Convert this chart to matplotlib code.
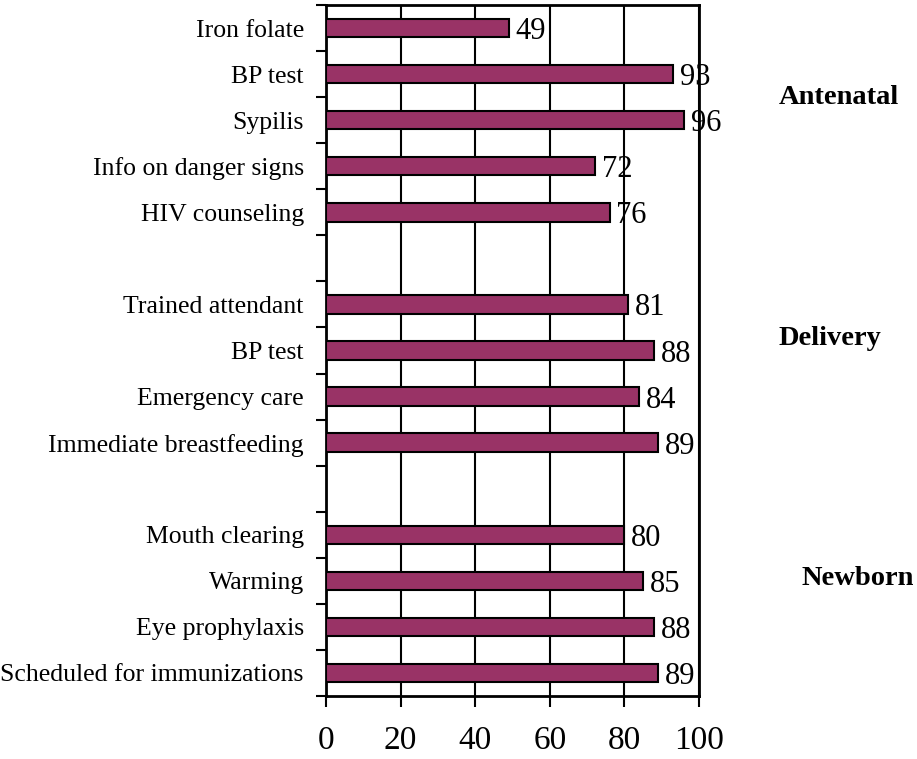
import numpy as np
import matplotlib.pyplot as plt

plt.rcParams['font.family'] = ['Liberation Serif', 'DejaVu Serif']

groups = ['Antenatal', 'Delivery', 'Newborn']
antenatal_items = ['Iron folate', 'BP test', 'Sypilis', 'Info on danger signs', 'HIV counseling']
antenatal_vals = [49, 93, 96, 72, 76]
delivery_items = ['Trained attendant', 'BP test', 'Emergency care', 'Immediate breastfeeding']
delivery_vals = [81, 88, 84, 89]
newborn_items = ['Mouth clearing', 'Warming', 'Eye prophylaxis', 'Scheduled for immunizations']
newborn_vals = [80, 85, 88, 89]

BAR_COLOUR = '#993366'

# one empty slot between groups
labels, values, pos = [], [], []
slot = 0
for items, vals in [(antenatal_items, antenatal_vals),
                    (delivery_items, delivery_vals),
                    (newborn_items, newborn_vals)]:
    for it, v in zip(items, vals):
        labels.append(it)
        values.append(v)
        pos.append(slot)
        slot += 1
    slot += 1
n_slots = slot - 1

fig = plt.figure(figsize=(9.17, 7.59), dpi=100)
ax = fig.add_axes([0.3555, 0.083, 0.4068, 0.9104])

ax.barh(pos, values, height=0.4, color=BAR_COLOUR, edgecolor='black',
        linewidth=1.5, zorder=3)

for p, v in zip(pos, values):
    ax.annotate(str(v), (v, p), xytext=(5, 0), textcoords='offset points',
                ha='left', va='center_baseline', fontsize=22, zorder=4)

ax.set_xlim(0, 100)
ax.set_ylim(n_slots - 0.5, -0.5)
ax.set_xticks(np.arange(0, 101, 20))
ax.tick_params(axis='x', direction='out', length=8, width=1.5, labelsize=24, pad=13)
ax.set_yticks(pos, labels=labels)
ax.tick_params(axis='y', which='major', length=0, labelsize=18.5, pad=16)
ax.set_yticks(np.arange(-0.5, n_slots, 1.0), minor=True)
ax.tick_params(axis='y', which='minor', direction='out', length=7, width=1.5)

ax.grid(axis='x', color='black', linewidth=1.5, zorder=0)
for s in ax.spines.values():
    s.set_linewidth(2)
    s.set_color('black')

# group labels to the right of the plot
group_y = [1.5, 6.75, 11.95]
group_x = [121.4, 121.2, 127.6]
for g, gx, gy in zip(groups, group_x, group_y):
    ax.text(gx, gy, g, fontsize=20.5, fontweight='bold', ha='left',
            va='center', clip_on=False)

fig.savefig('out.png', dpi=100)
